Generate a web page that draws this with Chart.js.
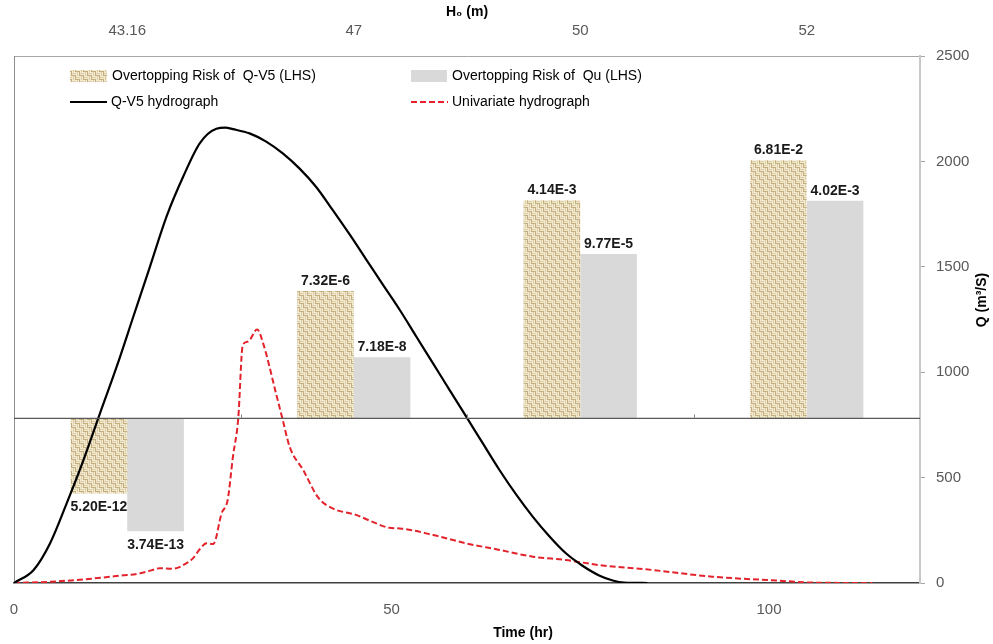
<!DOCTYPE html>
<html><head><meta charset="utf-8">
<script src="https://cdn.jsdelivr.net/npm/chart.js@4.4.0/dist/chart.umd.min.js"></script>
<style>html,body{margin:0;padding:0;background:#fff;}#wrap{width:993px;height:644px;position:relative;}</style>
</head><body><div id="wrap"><canvas id="c" width="993" height="644"></canvas></div>
<script>
// ---------- data ----------
const H0_LABELS = ['43.16', '47', '50', '52'];
const RISK_QV5 = [5.20e-12, 7.32e-6, 4.14e-3, 6.81e-2];
const RISK_QU  = [3.74e-13, 7.18e-8, 9.77e-5, 4.02e-3];
const RISK_BASE = 1e-9;

const QV5_TIME = [0, 2.6, 4.8, 7.0, 9.2, 11.4, 13.6, 15.8, 18.0, 20.2, 22.4, 24.6, 26.8, 28.0, 29.0, 31.2, 33.4, 35.6, 37.8, 40.0, 42.2, 44.5, 46.7, 48.9, 51.1, 53.3, 55.5, 57.7, 59.9, 62.1, 64.3, 66.5, 68.7, 70.9, 73.1, 75.3, 77.5, 79.3, 80.8, 83.9];
const QV5_Q    = [0, 62, 190, 380, 583, 806, 1026, 1263, 1500, 1738, 1927, 2086, 2155, 2160, 2153, 2133, 2094, 2038, 1967, 1880, 1770, 1651, 1532, 1413, 1295, 1168, 1042, 915, 789, 662, 536, 420, 315, 222, 141, 82, 36, 12, 2, 0];

const UNI_TIME = [0, 4.8, 9.2, 13.6, 16.7, 18.2, 19.3, 21.1, 22.8, 23.7, 24.6, 25.5, 26.4, 27.5, 28.3, 29.0, 29.7, 30.3, 31.0, 32.2, 33.0, 34.7, 35.6, 36.5, 38.3, 40.3, 42.2, 45.3, 47.5, 49.7, 51.1, 55.5, 59.9, 64.3, 68.7, 73.1, 77.5, 83.7, 92.5, 101.3, 105.7, 113.7];
const UNI_Q    = [0, 6, 17, 33, 46, 60, 70, 68, 93, 117, 160, 188, 185, 331, 394, 600, 780, 1129, 1145, 1203, 1137, 900, 773, 647, 536, 405, 354, 323, 290, 262, 259, 228, 188, 157, 125, 109, 85, 65, 30, 11, 2, 0];

const X_TICKS_STEP = 50;
const Q_TICKS_STEP = 500;

// ---------- helpers ----------
const FONT = '"Liberation Sans", Arial, "DejaVu Sans", sans-serif';
const canvas = document.getElementById('c');
const mainCtx = canvas.getContext('2d');

function makeBurlap() {
  const c = document.createElement('canvas');
  c.width = 8; c.height = 8;
  const g = c.getContext('2d');
  g.fillStyle = '#c2ae80'; g.fillRect(0, 0, 8, 8);
  g.fillStyle = '#f2eacf';
  g.fillRect(0, 0, 4, 1); g.fillRect(0, 2, 4, 1);
  g.fillRect(4, 4, 4, 1); g.fillRect(4, 6, 4, 1);
  g.fillRect(4, 0, 1, 4); g.fillRect(6, 0, 1, 4);
  g.fillRect(0, 4, 1, 4); g.fillRect(2, 4, 1, 4);
  g.fillStyle = '#ddcea8';
  g.fillRect(0, 1, 4, 1); g.fillRect(4, 5, 4, 1);
  g.fillRect(5, 0, 1, 4); g.fillRect(1, 4, 1, 4);
  return mainCtx.createPattern(c, 'repeat');
}
const burlap = makeBurlap();
const fmt = v => v.toExponential(2).toUpperCase().replace('E+', 'E');
const pts = (xs, ys) => xs.map((x, i) => ({x: x, y: ys[i]}));
const noPad = s => { s.paddingLeft = 0; s.paddingRight = 0; };
const GROUP_FRACTION = 0.5; // share of each category taken by the pair of bars

// ---------- bar grouping: place the two series side by side in each category ----------
const barLayout = {
  id: 'barLayout',
  afterDatasetsUpdate(chart) {
    const xs = chart.scales.xCat;
    const catW = xs.getPixelForValue(1) - xs.getPixelForValue(0);
    const nSeries = 2;
    const bw = catW * GROUP_FRACTION / nSeries;
    for (let di = 0; di < nSeries; di++) {
      chart.getDatasetMeta(di).data.forEach((bar, j) => {
        bar.x = xs.getPixelForValue(j) + (di - (nSeries - 1) / 2) * bw;
        bar.width = bw;
      });
    }
  }
};

// ---------- overlay plugin ----------
const overlay = {
  id: 'overlay',
  afterDatasetsDraw(chart) {
    const ctx = chart.ctx, a = chart.chartArea;
    const yR = chart.scales.yRisk;
    const yb = yR.getPixelForValue(RISK_BASE);
    ctx.save();
    ctx.strokeStyle = '#595959'; ctx.lineWidth = 1.3;
    ctx.beginPath(); ctx.moveTo(a.left, yb); ctx.lineTo(a.right, yb); ctx.stroke();
    ctx.strokeStyle = '#8c8c8c'; ctx.lineWidth = 1;
    const n = H0_LABELS.length, w = (a.right - a.left) / n;
    for (let i = 1; i < n; i++) {
      const x = Math.round(a.left + i * w) + 0.5;
      ctx.beginPath(); ctx.moveTo(x, yb); ctx.lineTo(x, yb - 4); ctx.stroke();
    }
    ctx.font = 'bold 14px ' + FONT;
    ctx.fillStyle = '#1a1a1a';
    ctx.textAlign = 'center';
    [RISK_QV5, RISK_QU].forEach((arr, di) => {
      const meta = chart.getDatasetMeta(di);
      meta.data.forEach((bar, j) => {
        const v = arr[j];
        const txt = fmt(v);
        const yp = yR.getPixelForValue(v);
        if (v < RISK_BASE) { ctx.textBaseline = 'top'; ctx.fillText(txt, bar.x, yp + 7); }
        else { ctx.textBaseline = 'bottom'; ctx.fillText(txt, bar.x, yp - 3); }
      });
    });
    ctx.restore();
  },
  afterDraw(chart) {
    const ctx = chart.ctx, a = chart.chartArea;
    ctx.save();
    ctx.font = '14px ' + FONT;
    ctx.fillStyle = '#000'; ctx.textAlign = 'left'; ctx.textBaseline = 'middle';
    const r1 = 76, r2 = 102;
    ctx.fillStyle = burlap; ctx.fillRect(70, r1 - 6, 37, 12);
    ctx.fillStyle = '#d9d9d9'; ctx.fillRect(411, r1 - 6, 36, 12);
    ctx.fillStyle = '#000';
    ctx.fillText('Overtopping Risk of  Q-V5 (LHS)', 112, r1);
    ctx.fillText('Overtopping Risk of  Qu (LHS)', 452, r1);
    ctx.strokeStyle = '#000'; ctx.lineWidth = 2;
    ctx.beginPath(); ctx.moveTo(70, r2); ctx.lineTo(107, r2); ctx.stroke();
    ctx.strokeStyle = '#e3232c'; ctx.setLineDash([6, 3]);
    ctx.beginPath(); ctx.moveTo(411, r2); ctx.lineTo(448, r2); ctx.stroke();
    ctx.setLineDash([]);
    ctx.fillText('Q-V5 hydrograph', 111, r2);
    ctx.fillText('Univariate hydrograph', 452, r2);
    ctx.font = 'bold 14px ' + FONT;
    ctx.textAlign = 'center';
    ctx.fillText('H₀ (m)', (a.left + a.right) / 2, 12);
    ctx.fillText('Time (hr)', 523, 633);
    ctx.translate(982, 300); ctx.rotate(-Math.PI / 2);
    ctx.fillText('Q (m³/S)', 0, 0);
    ctx.restore();
  }
};

// ---------- chart ----------
new Chart(canvas, {
  data: {
    labels: H0_LABELS,
    datasets: [
      { type: 'bar', label: 'Overtopping Risk of  Q-V5 (LHS)', xAxisID: 'xCat', yAxisID: 'yRisk',
        data: RISK_QV5.map(v => [RISK_BASE, v]), backgroundColor: burlap, borderWidth: 0,
        categoryPercentage: 0.5, barPercentage: 1.0, order: 2 },
      { type: 'bar', label: 'Overtopping Risk of  Qu (LHS)', xAxisID: 'xCat', yAxisID: 'yRisk',
        data: RISK_QU.map(v => [RISK_BASE, v]), backgroundColor: '#d9d9d9', borderWidth: 0,
        categoryPercentage: 0.5, barPercentage: 1.0, order: 2 },
      { type: 'line', label: 'Q-V5 hydrograph', xAxisID: 'x', yAxisID: 'yQ',
        data: pts(QV5_TIME, QV5_Q), borderColor: '#000', borderWidth: 2.2, pointRadius: 0,
        cubicInterpolationMode: 'monotone', fill: false, order: 0 },
      { type: 'line', label: 'Univariate hydrograph', xAxisID: 'x', yAxisID: 'yQ',
        data: pts(UNI_TIME, UNI_Q), borderColor: '#e3232c', borderWidth: 2, borderDash: [6, 3],
        pointRadius: 0, cubicInterpolationMode: 'monotone', fill: false, order: 1 }
    ]
  },
  options: {
    responsive: false, animation: false, devicePixelRatio: 1,
    layout: { padding: 0 },
    plugins: { legend: { display: false }, tooltip: { enabled: false } },
    scales: {
      x: {
        type: 'linear', position: 'bottom', min: 0, max: 120, offset: false,
        ticks: { stepSize: X_TICKS_STEP, includeBounds: false, color: '#595959', font: { size: 15, family: FONT }, padding: 18, maxRotation: 0 },
        grid: { display: false, drawTicks: false, offset: false },
        border: { color: '#404040', width: 1.5 },
        afterFit: s => { s.height = 61; noPad(s); }
      },
      xCat: {
        type: 'category', position: 'top', labels: H0_LABELS, offset: true,
        ticks: { color: '#595959', font: { size: 15, family: FONT }, padding: 16, maxRotation: 0 },
        grid: { display: false, drawTicks: false, offset: true },
        border: { color: '#a6a6a6', width: 1 },
        afterFit: s => { s.height = 56; noPad(s); }
      },
      yQ: {
        type: 'linear', position: 'right', min: 0, max: 2500,
        ticks: { stepSize: Q_TICKS_STEP, color: '#595959', font: { size: 15, family: FONT }, padding: 11, callback: v => String(v) },
        grid: { drawOnChartArea: false, drawTicks: true, tickLength: 5, color: '#a6a6a6' },
        border: { color: '#c8c8c8', width: 2 },
        afterFit: s => { s.width = 73; }
      },
      yRisk: {
        type: 'logarithmic', position: 'left', min: 1e-14, max: 1e2,
        ticks: { display: false },
        grid: { display: false, drawTicks: false },
        border: { color: '#8c8c8c', width: 1 },
        afterFit: s => { s.width = 14; }
      }
    }
  },
  plugins: [barLayout, overlay]
});
</script></body></html>
